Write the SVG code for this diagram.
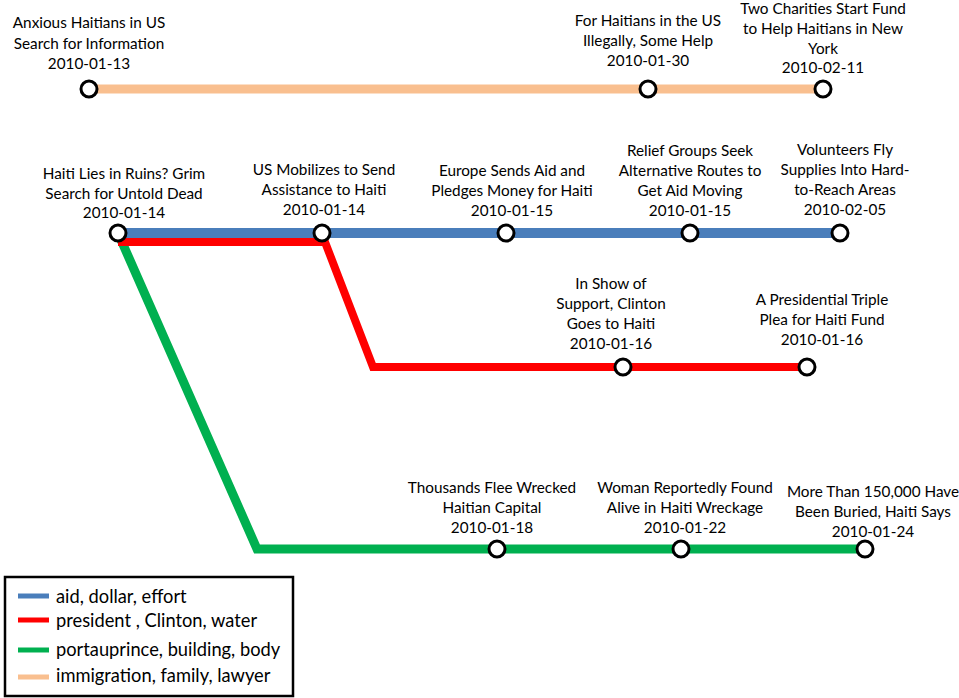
<svg xmlns="http://www.w3.org/2000/svg" width="959" height="698" viewBox="0 0 959 698">
<style>
.t{font-family:Lato,"Noto Sans","Liberation Sans",sans-serif;font-size:15.3px;fill:#000;text-anchor:middle}
.lg{font-family:Lato,"Noto Sans","Liberation Sans",sans-serif;font-size:18.3px;fill:#000}
.ln{fill:none;stroke-linejoin:miter;stroke-linecap:butt}
.blue{stroke:#4A7EBB;stroke-width:10}
.red{stroke:#FF0000;stroke-width:8}
.green{stroke:#00B050;stroke-width:9}
.orange{stroke:#F9BF8F;stroke-width:9}
.n{fill:#fff;stroke:#000;stroke-width:3}
</style>
<rect width="959" height="698" fill="#fff"/>
<g id="connectors">
<path class="ln orange" d="M89 89H823"/>
<path class="ln green" d="M118 233L257 549H865"/>
<path class="ln blue" d="M118 233H840"/>
<path class="ln red" d="M118 242H325L373 367H807"/>
</g>
<g id="n1"><circle class="n" cx="89" cy="89" r="8"/><text class="t"><tspan x="89" y="28">Anxious Haitians in US</tspan><tspan x="89" y="49">Search for Information</tspan><tspan x="89" y="69">2010-01-13</tspan></text></g>
<g id="n2"><circle class="n" cx="648" cy="89" r="8"/><text class="t"><tspan x="648" y="26">For Haitians in the US</tspan><tspan x="648" y="46">Illegally, Some Help</tspan><tspan x="648" y="66">2010-01-30</tspan></text></g>
<g id="n3"><circle class="n" cx="823" cy="89" r="8"/><text class="t"><tspan x="823" y="14">Two Charities Start Fund</tspan><tspan x="823" y="34">to Help Haitians in New</tspan><tspan x="823" y="54">York</tspan><tspan x="823" y="73">2010-02-11</tspan></text></g>
<g id="n4"><circle class="n" cx="118" cy="233" r="8"/><text class="t"><tspan x="124" y="179">Haiti Lies in Ruins? Grim</tspan><tspan x="124" y="199">Search for Untold Dead</tspan><tspan x="124" y="218">2010-01-14</tspan></text></g>
<g id="n5"><circle class="n" cx="322" cy="233" r="8"/><text class="t"><tspan x="324" y="175">US Mobilizes to Send</tspan><tspan x="324" y="195">Assistance to Haiti</tspan><tspan x="324" y="215">2010-01-14</tspan></text></g>
<g id="n6"><circle class="n" cx="506" cy="233" r="8"/><text class="t"><tspan x="512" y="176">Europe Sends Aid and</tspan><tspan x="512" y="196">Pledges Money for Haiti</tspan><tspan x="512" y="216">2010-01-15</tspan></text></g>
<g id="n7"><circle class="n" cx="690" cy="233" r="8"/><text class="t"><tspan x="690" y="156">Relief Groups Seek</tspan><tspan x="690" y="176">Alternative Routes to</tspan><tspan x="690" y="196">Get Aid Moving</tspan><tspan x="690" y="216">2010-01-15</tspan></text></g>
<g id="n8"><circle class="n" cx="840" cy="233" r="8"/><text class="t"><tspan x="845" y="155">Volunteers Fly</tspan><tspan x="845" y="175">Supplies Into Hard-</tspan><tspan x="845" y="195">to-Reach Areas</tspan><tspan x="845" y="215">2010-02-05</tspan></text></g>
<g id="n9"><circle class="n" cx="623" cy="367" r="8"/><text class="t"><tspan x="611" y="289">In Show of</tspan><tspan x="611" y="309">Support, Clinton</tspan><tspan x="611" y="329">Goes to Haiti</tspan><tspan x="611" y="349">2010-01-16</tspan></text></g>
<g id="n10"><circle class="n" cx="807" cy="367" r="8"/><text class="t"><tspan x="822" y="305">A Presidential Triple</tspan><tspan x="822" y="325">Plea for Haiti Fund</tspan><tspan x="822" y="345">2010-01-16</tspan></text></g>
<g id="n11"><circle class="n" cx="497" cy="549" r="8"/><text class="t"><tspan x="492" y="493">Thousands Flee Wrecked</tspan><tspan x="492" y="513">Haitian Capital</tspan><tspan x="492" y="533">2010-01-18</tspan></text></g>
<g id="n12"><circle class="n" cx="681" cy="549" r="8"/><text class="t"><tspan x="685" y="493">Woman Reportedly Found</tspan><tspan x="685" y="513">Alive in Haiti Wreckage</tspan><tspan x="685" y="533">2010-01-22</tspan></text></g>
<g id="n13"><circle class="n" cx="865" cy="549" r="8"/><text class="t"><tspan x="873" y="497">More Than 150,000 Have</tspan><tspan x="873" y="517">Been Buried, Haiti Says</tspan><tspan x="873" y="537">2010-01-24</tspan></text></g>
<g id="legend">
<rect x="5" y="577" width="288" height="119" fill="#fff" stroke="#000" stroke-width="2.5"/>
<path stroke="#4A7EBB" stroke-width="5" d="M18 596H49"/>
<path stroke="#FF0000" stroke-width="5" d="M18 620H49"/>
<path stroke="#00B050" stroke-width="5" d="M18 650H49"/>
<path stroke="#F9BF8F" stroke-width="5" d="M18 677H49"/>
<text class="lg" x="56" y="603">aid, dollar, effort</text>
<text class="lg" x="56" y="627">president , Clinton, water</text>
<text class="lg" x="56" y="656">portauprince, building, body</text>
<text class="lg" x="56" y="682">immigration, family, lawyer</text>
</g>
</svg>
